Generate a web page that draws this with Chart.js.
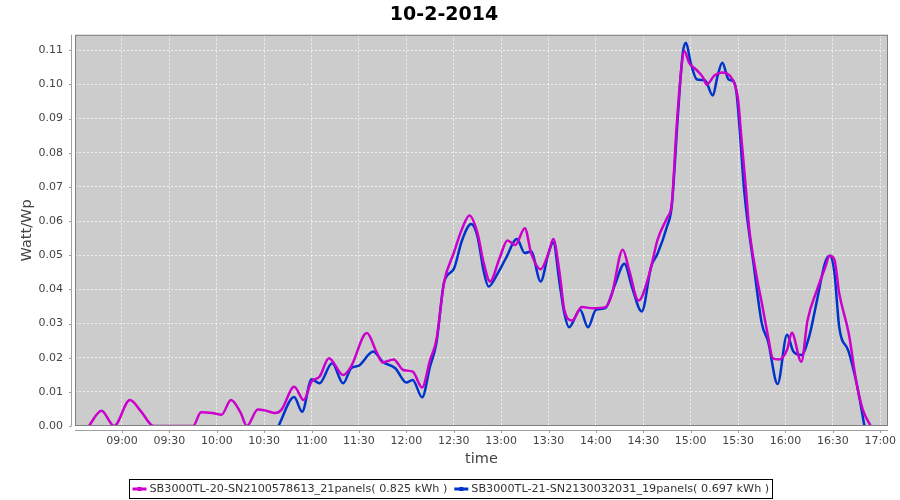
<!DOCTYPE html>
<html>
<head>
<meta charset="utf-8">
<script src="https://cdn.jsdelivr.net/npm/chart.js@4"></script>
<style>
  html, body { margin: 0; padding: 0; background: #ffffff; }
  #c { display: block; }
</style>
</head>
<body>
<canvas id="c" width="900" height="500"></canvas>
<script>
// ---------- data ----------
const chartTitle = "10-2-2014";
const seriesNames = [
  "SB3000TL-20-SN2100578613_21panels( 0.825 kWh )",
  "SB3000TL-21-SN2130032031_19panels( 0.697 kWh )"
];
const seriesColors = ["#cc00cc", "#0033cc"];

const xTickLabels = ["09:00","09:30","10:00","10:30","11:00","11:30","12:00","12:30","13:00",
  "13:30","14:00","14:30","15:00","15:30","16:00","16:30","17:00"];
const yTickLabels = ["0.00","0.01","0.02","0.03","0.04","0.05","0.06","0.07","0.08","0.09","0.10","0.11"];

const magentaTimes = ["08:39","08:47","08:55","09:05","09:12","09:20","09:30","09:40","09:45","09:50",
  "09:57","10:03","10:09","10:15","10:19","10:26","10:31","10:37","10:41","10:49",
  "10:55","11:00","11:05","11:11","11:20","11:25","11:35","11:41","11:45","11:52",
  "11:58","12:04","12:10","12:15","12:19","12:24","12:30","12:35","12:40","12:45",
  "12:49","12:53","12:59","13:04","13:09","13:15","13:19","13:25","13:30","13:33",
  "13:37","13:40","13:45","13:51","13:58","14:06","14:10","14:17","14:21","14:27",
  "14:34","14:39","14:45","14:48","14:51","14:54","14:56","14:59","15:04","15:08",
  "15:10","15:15","15:20","15:25","15:28","15:30","15:32","15:35","15:37","15:41",
  "15:45","15:49","15:52","15:56","16:01","16:04","16:10","16:14","16:20","16:25",
  "16:28","16:31","16:34","16:40","16:45","16:49","16:54"];
const magentaValues = [0,0.0045,0,0.0076,0.0043,0,0,0,0,0.004,
  0.0038,0.0033,0.0076,0.004,0,0.0048,0.0045,0.0038,0.0048,0.0115,
  0.0076,0.013,0.0144,0.0198,0.0149,0.0174,0.0272,0.0218,0.0186,0.0195,
  0.0164,0.0159,0.0113,0.0193,0.0252,0.0423,0.0506,0.0574,0.0616,0.0565,
  0.0477,0.0423,0.0491,0.0543,0.053,0.0579,0.0506,0.0459,0.0506,0.0547,
  0.0448,0.034,0.0309,0.0348,0.0345,0.0348,0.0384,0.0516,0.0457,0.0367,
  0.0448,0.0545,0.0609,0.065,0.087,0.1043,0.1097,0.1063,0.1041,0.1019,
  0.0999,0.1026,0.1035,0.1024,0.0999,0.0955,0.0848,0.0692,0.058,0.0457,
  0.036,0.0262,0.0198,0.0195,0.0223,0.0273,0.0188,0.031,0.0399,0.0462,
  0.0498,0.0487,0.0389,0.0272,0.0125,0.0047,0];

const blueTimes = ["10:39","10:49","10:54","11:00","11:05","11:13","11:20","11:25","11:30","11:39",
  "11:45","11:53","12:00","12:04","12:10","12:15","12:19","12:24","12:30","12:35",
  "12:41","12:45","12:49","12:52","12:58","13:03","13:10","13:15","13:19","13:25",
  "13:30","13:33","13:37","13:40","13:43","13:50","13:55","14:00","14:06","14:12",
  "14:18","14:23","14:29","14:35","14:39","14:45","14:48","14:52","14:55","14:57",
  "15:00","15:04","15:09","15:14","15:17","15:20","15:24","15:27","15:29","15:31",
  "15:34","15:40","15:45","15:49","15:55","16:01","16:05","16:10","16:15","16:20",
  "16:25","16:28","16:31","16:34","16:40","16:45","16:50"];
const blueValues = [0,0.0085,0.0042,0.0137,0.0125,0.0184,0.0125,0.0169,0.0177,0.0218,
  0.0188,0.0169,0.0127,0.0135,0.0084,0.0174,0.0242,0.0423,0.0459,0.054,
  0.0591,0.0555,0.0452,0.0408,0.0448,0.0491,0.0547,0.0506,0.0511,0.0423,
  0.0506,0.0537,0.0418,0.033,0.0289,0.034,0.0289,0.034,0.0345,0.0413,
  0.0475,0.0404,0.0335,0.0467,0.0504,0.0584,0.0643,0.0916,0.1092,0.1122,
  0.1063,0.1014,0.1012,0.0967,0.1024,0.1063,0.1014,0.1009,0.0975,0.0868,
  0.0682,0.0467,0.0301,0.0247,0.0123,0.0267,0.0218,0.0208,0.0262,0.0369,
  0.0477,0.0498,0.0448,0.0291,0.0218,0.0125,0];

// ---------- helpers ----------
const toMin = s => { const p = s.split(":").map(Number); return p[0] * 60 + p[1]; };
const fmtMin = v => String(Math.floor(v / 60)).padStart(2, "0") + ":" + String(Math.round(v % 60)).padStart(2, "0");
const pts = (ts, vs) => ts.map((t, i) => ({ x: toMin(t), y: vs[i] }));

const FONT = "DejaVu Sans";

const framePlugin = {
  id: "frame",
  beforeDraw(chart) {
    const { ctx, chartArea: a } = chart;
    ctx.save();
    ctx.fillStyle = "#cccccc";
    ctx.fillRect(a.left, a.top, a.right - a.left, a.bottom - a.top);
    ctx.restore();
  },
  afterDraw(chart) {
    const { ctx, chartArea: a, scales } = chart;
    ctx.save();
    // plot outline
    ctx.strokeStyle = "#808080";
    ctx.lineWidth = 1;
    ctx.strokeRect(a.left + 0.5, a.top + 0.5, a.right - a.left - 1, a.bottom - a.top - 1);
    // offset axis lines
    ctx.strokeStyle = "#a0a0a0";
    ctx.beginPath();
    const ax = Math.round(a.left) - 4 + 0.5;
    ctx.moveTo(ax, a.top); ctx.lineTo(ax, a.bottom);
    scales.y.ticks.forEach(t => {
      const py = Math.round(scales.y.getPixelForValue(t.value)) + 0.5;
      ctx.moveTo(ax - 2.5, py); ctx.lineTo(ax, py);
    });
    const ay = Math.round(a.bottom) + 4 + 0.5;
    ctx.moveTo(a.left, ay); ctx.lineTo(a.right, ay);
    scales.x.ticks.forEach(t => {
      const px = Math.round(scales.x.getPixelForValue(t.value)) + 0.5;
      ctx.moveTo(px, ay); ctx.lineTo(px, ay + 2.5);
    });
    ctx.stroke();

    // legend
    ctx.font = "11.2px '" + FONT + "'";
    ctx.textBaseline = "middle";
    const sym = 14, gapSym = 3, gapItem = 7, pad = 3;
    const ds = chart.data.datasets;
    const widths = ds.map(d => ctx.measureText(d.label).width);
    let W = pad * 2 + gapItem * (ds.length - 1);
    widths.forEach(w => { W += sym + gapSym + w; });
    const x0 = Math.round(450 - W / 2) + 0.5;
    const y0 = 479.5, h = 19;
    ctx.strokeStyle = "#000000";
    ctx.lineWidth = 1;
    ctx.strokeRect(x0, y0, Math.round(W), h);
    let x = x0 + pad;
    const cy = y0 + h / 2;
    ds.forEach((d, i) => {
      ctx.strokeStyle = d.borderColor;
      ctx.lineWidth = 3;
      ctx.beginPath();
      ctx.moveTo(x, cy); ctx.lineTo(x + sym, cy);
      ctx.stroke();
      ctx.fillStyle = d.borderColor;
      ctx.fillRect(x + sym / 2 - 2, cy - 2, 4, 4);
      x += sym + gapSym;
      ctx.fillStyle = "#333333";
      ctx.fillText(d.label, x, cy + 0.5);
      x += widths[i] + gapItem;
    });
    ctx.restore();
  }
};

new Chart(document.getElementById("c"), {
  type: "line",
  data: {
    datasets: [
      { label: seriesNames[0], data: pts(magentaTimes, magentaValues), borderColor: seriesColors[0],
        backgroundColor: seriesColors[0], borderWidth: 2.5, pointRadius: 0, cubicInterpolationMode: "monotone",
        fill: false, clip: 0 },
      { label: seriesNames[1], data: pts(blueTimes, blueValues), borderColor: seriesColors[1],
        backgroundColor: seriesColors[1], borderWidth: 2.5, pointRadius: 0, cubicInterpolationMode: "monotone",
        fill: false, clip: 0 }
    ]
  },
  options: {
    responsive: false,
    animation: false,
    events: [],
    layout: { padding: { left: 0, right: 12, top: 0, bottom: 30 } },
    plugins: {
      legend: { display: false },
      tooltip: { enabled: false },
      title: {
        display: true, text: chartTitle, color: "#000000",
        font: { family: FONT, size: 19, weight: "bold" },
        padding: { top: 4, bottom: 8 }
      }
    },
    scales: {
      x: {
        type: "linear",
        min: 510.25, max: 1024.9,
        afterBuildTicks: s => { s.ticks = xTickLabels.map(l => ({ value: toMin(l) })); },
        afterFit: s => { s.height = 44; s.paddingLeft = 0; s.paddingRight = 0; },
        ticks: { callback: v => fmtMin(v), color: "#444444", font: { family: FONT, size: 11 },
          padding: 9, maxRotation: 0, autoSkip: false },
        grid: { color: "rgba(255,255,255,0.7)", lineWidth: 1, drawTicks: false },
        border: { display: false, dash: [2, 2] },
        title: { display: true, text: "time", color: "#444444",
          font: { family: FONT, size: 14.5 }, padding: { top: 0, bottom: 2 } }
      },
      y: {
        type: "linear",
        min: 0, max: 0.1145,
        afterBuildTicks: s => { s.ticks = yTickLabels.map(l => ({ value: parseFloat(l) })); },
        afterFit: s => { s.width = 75; s.paddingTop = 0; s.paddingBottom = 0; },
        ticks: { callback: v => v.toFixed(2), color: "#444444", font: { family: FONT, size: 11 },
          padding: 12 },
        grid: { color: "rgba(255,255,255,0.7)", lineWidth: 1, drawTicks: false },
        border: { display: false, dash: [2, 2] },
        title: { display: true, text: "Watt/Wp", color: "#444444",
          font: { family: FONT, size: 14.5 }, padding: { top: 19, bottom: 0 } }
      }
    }
  },
  plugins: [framePlugin]
});
</script>
</body>
</html>
